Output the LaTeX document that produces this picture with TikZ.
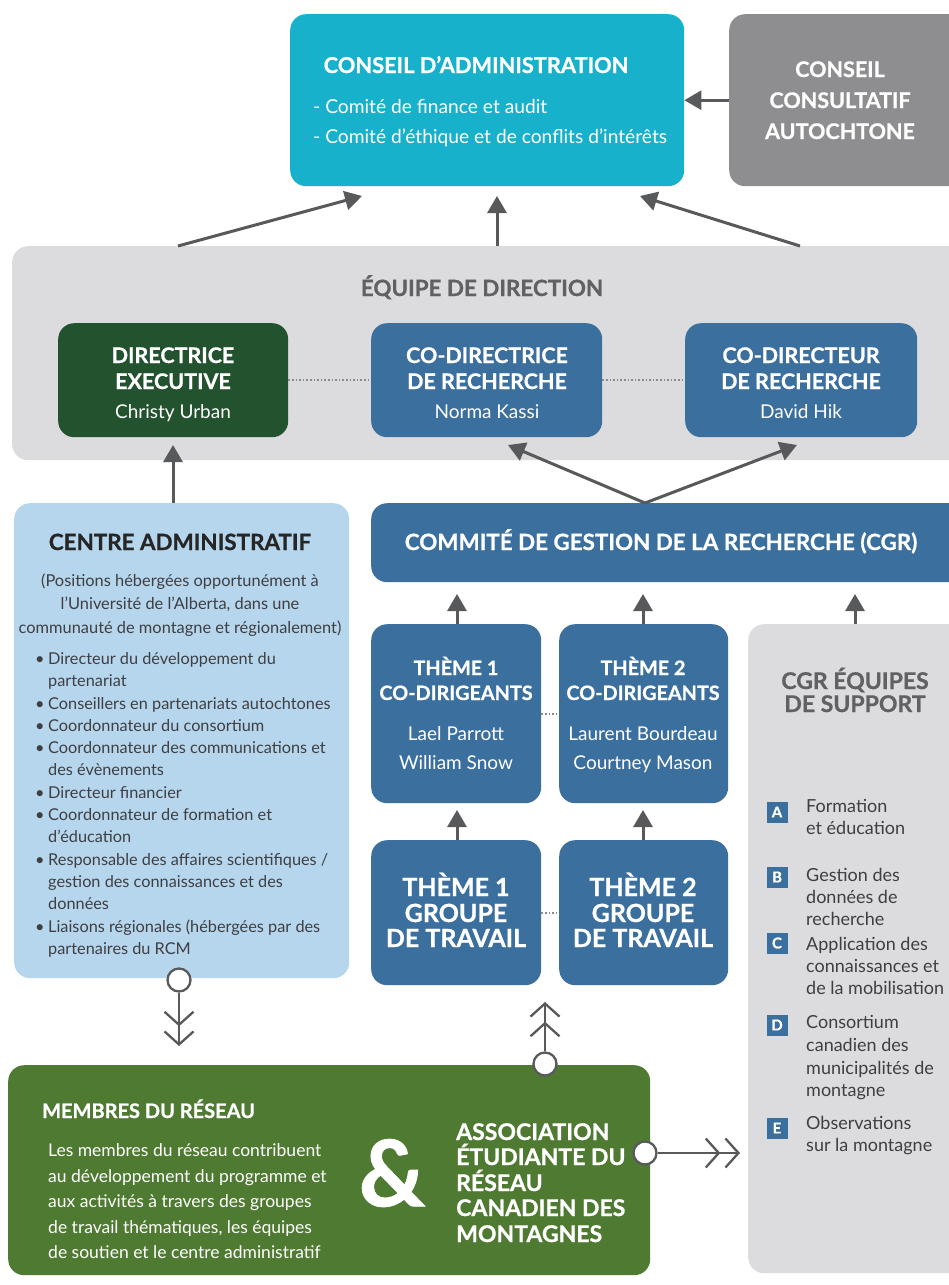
\documentclass[tikz,border=0pt]{standalone}
\usepackage{fontspec}
\setmainfont{Lato}[BoldFeatures={FakeBold=0.8}]
\usetikzlibrary{arrows.meta}
\definecolor{cTeal}{HTML}{17B1CB}
\definecolor{cCons}{HTML}{8E8E90}
\definecolor{cArr}{HTML}{58595B}
\definecolor{cLGrey}{HTML}{DCDCDE}
\definecolor{cDGreen}{HTML}{23522F}
\definecolor{cBlue}{HTML}{3B6F9E}
\definecolor{cLBlue}{HTML}{B6D6EE}
\definecolor{cOlive}{HTML}{4F7A32}
\definecolor{cHead}{HTML}{616163}
\definecolor{cBody}{HTML}{3F3F41}
\definecolor{cDot}{HTML}{8A8A8C}
\begin{document}
\begin{tikzpicture}[x=1pt,y=-1pt,
 box/.style={rounded corners=16pt, inner sep=0pt, anchor=north west, draw=none},
 hd/.style={font=\fontsize{21.5}{24}\selectfont\bfseries, text=white, anchor=base, inner sep=0pt},
 nm/.style={font=\fontsize{19}{22}\selectfont, text=white, anchor=base, inner sep=0pt},
 bl/.style={font=\fontsize{16.3}{18}\selectfont, text=cBody, anchor=base west, inner sep=0pt},
 sl/.style={font=\fontsize{16.4}{18}\selectfont, text=cBody, anchor=base, inner sep=0pt},
 it/.style={font=\fontsize{18}{20}\selectfont, text=cBody, anchor=base west, inner sep=0pt},
 mb/.style={font=\fontsize{17.5}{20}\selectfont, text=white, anchor=base west, inner sep=0pt},
 arr/.style={draw=cArr, line width=3pt, -{Triangle[length=17pt,width=19pt]}},
 dline/.style={draw=cDot, line width=1.6pt, dotted},
 ring/.style={circle, draw=cArr, fill=white, line width=2.3pt, minimum size=23pt, inner sep=0pt},
 chev/.style={draw=cArr, line width=2.3pt, -{Straight Barb[length=13pt,width=29pt,line width=2.3pt,sep=4pt]Straight Barb[length=13pt,width=29pt,line width=2.3pt]}},
 sq/.style={fill=cBlue, text=white, minimum size=21pt, inner sep=0pt, font=\fontsize{15}{16}\selectfont\bfseries}
]
\clip (0,0) rectangle (949,1285);
\fill[white] (0,0) rectangle (949,1285);

% ---------- top row
\node[box, fill=cTeal, minimum width=394pt, minimum height=172pt] (ca) at (290,14) {};
\node[box, fill=cCons, minimum width=240pt, minimum height=172pt] (cons) at (729,14) {};
\node[hd, font=\fontsize{21.8}{24}\selectfont\bfseries] (caT) at (476,73) {CONSEIL D’ADMINISTRATION};
\node[hd, font=\fontsize{19.2}{21}\selectfont, anchor=base west] (ca1) at (313,113) {- Comité de finance et audit};
\node[hd, font=\fontsize{19.2}{21}\selectfont, anchor=base west] (ca2) at (313,143) {- Comité d’éthique et de conflits d’intérêts};
\node[hd] (cons1) at (840,77) {CONSEIL};
\node[hd] (cons2) at (840,108) {CONSULTATIF};
\node[hd] (cons3) at (840,139) {AUTOCHTONE};

% ---------- equipe de direction
\node[box, fill=cLGrey, minimum width=960pt, minimum height=214pt] (eq) at (12,246) {};
\node[hd, text=cHead, font=\fontsize{22.4}{24}\selectfont\bfseries] (eqT) at (482,296) {ÉQUIPE DE DIRECTION};
\node[box, fill=cDGreen, minimum width=230pt, minimum height=114pt] (de) at (58,323) {};
\node[box, fill=cBlue, minimum width=231pt, minimum height=114pt] (cd1) at (371,323) {};
\node[box, fill=cBlue, minimum width=232pt, minimum height=114pt] (cd2) at (685,323) {};
\node[hd] (de1) at (173,363) {DIRECTRICE};
\node[hd] (de2) at (173,389) {EXECUTIVE};
\node[nm] (de3) at (173,418) {Christy Urban};
\node[hd] (cd11) at (487,363) {CO-DIRECTRICE};
\node[hd] (cd12) at (487,389) {DE RECHERCHE};
\node[nm] (cd13) at (487,418) {Norma Kassi};
\node[hd] (cd21) at (801,363) {CO-DIRECTEUR};
\node[hd] (cd22) at (801,389) {DE RECHERCHE};
\node[nm] (cd23) at (801,418) {David Hik};
\draw[dline] (de.east) -- (cd1.west);
\draw[dline] (cd1.east) -- (cd2.west);

% arrows to conseil
\coordinate (e1) at (178,246); \coordinate (t1) at (362,196);
\coordinate (e2) at (497,246); \coordinate (t2) at (497,196);
\coordinate (e3) at (800,246); \coordinate (t3) at (640,196);
\draw[arr] (e1) -- (t1);
\draw[arr] (e2) -- (t2);
\draw[arr] (e3) -- (t3);
\draw[arr] (cons.west) -- (ca.east);

% ---------- centre administratif
\node[box, fill=cLBlue, minimum width=335pt, minimum height=475pt] (cad) at (14,503) {};
\node[hd, text=black!85, font=\fontsize{22.4}{24}\selectfont\bfseries] (cadT) at (180,550) {CENTRE ADMINISTRATIF};
\node[sl] (cs1) at (180,586) {(Positions hébergées opportunément à};
\node[sl] (cs2) at (180,609) {l’Université de l’Alberta, dans une};
\node[sl] (cs3) at (180,633) {communauté de montagne et régionalement)};
\newcommand{\bu}{\makebox[13pt][l]{\textbullet}}
\node[bl] (b1) at (35,664) {\bu Directeur du développement du};
\node[bl] (b1b) at (48,686) {partenariat};
\node[bl] (b2) at (35,709) {\bu Conseillers en partenariats autochtones};
\node[bl] (b3) at (35,731) {\bu Coordonnateur du consortium};
\node[bl] (b4) at (35,753) {\bu Coordonnateur des communications et};
\node[bl] (b4b) at (48,775) {des évènements};
\node[bl] (b5) at (35,798) {\bu Directeur financier};
\node[bl] (b6) at (35,820) {\bu Coordonnateur de formation et};
\node[bl] (b6b) at (48,842) {d’éducation};
\node[bl] (b7) at (35,865) {\bu Responsable des affaires scientifiques /};
\node[bl] (b7b) at (48,887) {gestion des connaissances et des};
\node[bl] (b7c) at (48,909) {données};
\node[bl] (b8) at (35,932) {\bu Liaisons régionales (hébergées par des};
\node[bl] (b8b) at (48,954) {partenaires du RCM};

\coordinate (cadTop) at (173,503); \coordinate (deBot) at (173,445);
\draw[arr] (cadTop) -- (deBot);

% ---------- CGR
\node[box, fill=cBlue, minimum width=600pt, minimum height=79pt] (cgr) at (371,503) {};
\node[hd, font=\fontsize{22.4}{24}\selectfont\bfseries] (cgrT) at (661,550) {COMMITÉ DE GESTION DE LA RECHERCHE (CGR)};
\coordinate (cgrTop) at (645,503);
\coordinate (cd1Bot) at (508,445);
\coordinate (cd2Bot) at (797,445);
\draw[arr] (cgrTop) -- (cd1Bot);
\draw[arr] (cgrTop) -- (cd2Bot);

% ---------- themes
\node[box, fill=cBlue, minimum width=170pt, minimum height=179pt] (t1c) at (371,624) {};
\node[box, fill=cBlue, minimum width=169pt, minimum height=179pt] (t2c) at (559,624) {};
\node[box, fill=cBlue, minimum width=170pt, minimum height=145pt] (t1g) at (371,840) {};
\node[box, fill=cBlue, minimum width=169pt, minimum height=145pt] (t2g) at (559,840) {};
\draw[dline] (t1c.east) -- (t2c.west);
\draw[dline] (t1g.east) -- (t2g.west);
\node[hd, font=\fontsize{19.8}{22}\selectfont\bfseries] (t1c1) at (456,675) {THÈME 1};
\node[hd, font=\fontsize{19.8}{22}\selectfont\bfseries] (t1c2) at (456,700) {CO-DIRIGEANTS};
\node[nm] (t1c3) at (456,740) {Lael Parrott};
\node[nm] (t1c4) at (456,769) {William Snow};
\node[hd, font=\fontsize{19.8}{22}\selectfont\bfseries] (t2c1) at (643,675) {THÈME 2};
\node[hd, font=\fontsize{19.8}{22}\selectfont\bfseries] (t2c2) at (643,700) {CO-DIRIGEANTS};
\node[nm] (t2c3) at (643,740) {Laurent Bourdeau};
\node[nm] (t2c4) at (643,769) {Courtney Mason};
\node[hd, font=\fontsize{25}{28}\selectfont\bfseries] (t1g1) at (456,896) {THÈME 1};
\node[hd, font=\fontsize{25}{28}\selectfont\bfseries] (t1g2) at (456,922) {GROUPE};
\node[hd, font=\fontsize{25}{28}\selectfont\bfseries] (t1g3) at (456,947) {DE TRAVAIL};
\node[hd, font=\fontsize{25}{28}\selectfont\bfseries] (t2g1) at (643,896) {THÈME 2};
\node[hd, font=\fontsize{25}{28}\selectfont\bfseries] (t2g2) at (643,922) {GROUPE};
\node[hd, font=\fontsize{25}{28}\selectfont\bfseries] (t2g3) at (643,947) {DE TRAVAIL};

% ---------- support
\node[box, fill=cLGrey, minimum width=220pt, minimum height=649pt] (sup) at (748,624) {};
\node[hd, text=cHead, font=\fontsize{23}{24}\selectfont\bfseries] (sup1) at (855,689) {CGR ÉQUIPES};
\node[hd, text=cHead, font=\fontsize{23}{24}\selectfont\bfseries] (sup2) at (855,712) {DE SUPPORT};
\node[sq] (sqA) at (777,812) {A};
\node[it] (a1) at (806,812) {Formation};
\node[it] (a2) at (806,834) {et éducation};
\node[sq] (sqB) at (777,877) {B};
\node[it] (bb1) at (806,881) {Gestion des};
\node[it] (bb2) at (806,903) {données de};
\node[it] (bb3) at (806,925) {recherche};
\node[sq] (sqC) at (777,943) {C};
\node[it] (c1) at (806,950) {Application des};
\node[it] (c2) at (806,972) {connaissances et};
\node[it] (c3) at (806,994) {de la mobilisation};
\node[sq] (sqD) at (777,1025) {D};
\node[it] (d1) at (806,1028) {Consortium};
\node[it] (d2) at (806,1051) {canadien des};
\node[it] (d3) at (806,1074) {municipalités de};
\node[it] (d4) at (806,1096) {montagne};
\node[sq] (sqE) at (777,1128) {E};
\node[it] (e1t) at (806,1129) {Observations};
\node[it] (e2t) at (806,1151) {sur la montagne};

% arrows up to CGR
\coordinate (t1cTop) at (457,624); \coordinate (cgrB1) at (457,594);
\coordinate (t2cTop) at (643,624); \coordinate (cgrB2) at (643,594);
\coordinate (supTop) at (855,624); \coordinate (cgrB3) at (855,594);
\draw[arr] (t1cTop) -- (cgrB1);
\draw[arr] (t2cTop) -- (cgrB2);
\draw[arr] (supTop) -- (cgrB3);
\coordinate (t1gTop) at (457,840); \coordinate (t1cBot) at (457,810);
\coordinate (t2gTop) at (643,840); \coordinate (t2cBot) at (643,810);
\draw[arr] (t1gTop) -- (t1cBot);
\draw[arr] (t2gTop) -- (t2cBot);

% ---------- membres
\node[box, fill=cOlive, minimum width=642pt, minimum height=210pt] (mem) at (8,1065) {};
\node[hd, anchor=base west, font=\fontsize{20}{22}\selectfont\bfseries] (memT) at (42,1118) {MEMBRES DU RÉSEAU};
\node[mb] (m1) at (48,1156) {Les membres du réseau contribuent};
\node[mb] (m2) at (48,1182) {au développement du programme et};
\node[mb] (m3) at (48,1207) {aux activités à travers des groupes};
\node[mb] (m4) at (48,1233) {de travail thématiques, les équipes};
\node[mb] (m5) at (48,1258) {de soutien et le centre administratif};
\node[text=white, font=\fontsize{92}{92}\selectfont\bfseries, inner sep=0pt] (amp) at (392,1173) {\&};
\node[hd, anchor=base west, font=\fontsize{23}{26}\selectfont\bfseries] (as1) at (456,1140) {ASSOCIATION};
\node[hd, anchor=base west, font=\fontsize{23}{26}\selectfont\bfseries] (as2) at (456,1165) {ÉTUDIANTE DU};
\node[hd, anchor=base west, font=\fontsize{23}{26}\selectfont\bfseries] (as3) at (456,1191) {RÉSEAU};
\node[hd, anchor=base west, font=\fontsize{23}{26}\selectfont\bfseries] (as4) at (456,1216) {CANADIEN DES};
\node[hd, anchor=base west, font=\fontsize{23}{26}\selectfont\bfseries] (as5) at (456,1242) {MONTAGNES};

% ---------- rings and chevron arrows
\node[ring] (r1) at (179,980) {};
\coordinate (r1end) at (179,1046);
\draw[chev] (r1.south) -- (r1end);
\node[ring] (r2) at (545,1064) {};
\coordinate (r2end) at (545,1002);
\draw[chev] (r2.north) -- (r2end);
\node[ring] (r3) at (645,1153) {};
\coordinate (r3end) at (740,1153);
\draw[chev] (r3.east) -- (r3end);
\end{tikzpicture}
\end{document}
